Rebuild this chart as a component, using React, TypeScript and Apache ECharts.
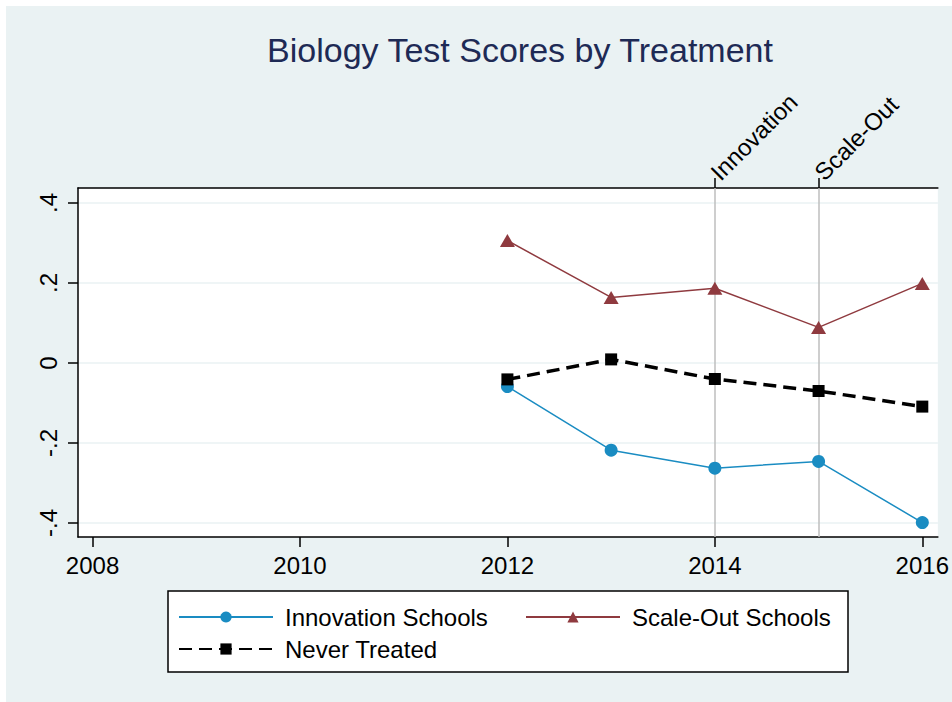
import React, { useEffect, useRef } from "react";
import * as echarts from "echarts";

const years = [2012, 2013, 2014, 2015, 2016];
const innovation = [-0.059, -0.218, -0.263, -0.246, -0.399];
const scaleOut = [0.306, 0.164, 0.187, 0.089, 0.199];
const neverTreated = [-0.041, 0.009, -0.04, -0.07, -0.109];
const xTicks = [2008, 2010, 2012, 2014, 2016];
const yTicks = [-0.4, -0.2, 0, 0.2, 0.4];
const eventYears = [2014, 2015];
const eventLabels = ["Innovation", "Scale-Out"];
const seriesNames = ["Innovation Schools", "Scale-Out Schools", "Never Treated"];
const titleText = "Biology Test Scores by Treatment";

const FONT = "'Liberation Sans', Arial, sans-serif";

function pairs(vals: number[]) {
  return years.map((y, i) => [y, vals[i]]);
}

export default function App() {
  const ref = useRef<HTMLDivElement>(null);
  useEffect(() => {
    if (!ref.current) return;
    const chart = echarts.init(ref.current, null, { renderer: "svg" });
    const fmtY = (v: number) => {
      const r = Math.round(v * 10) / 10;
      if (r === 0) return "0";
      return String(r).replace(/^(-?)0\./, "$1.");
    };
    chart.setOption({
      animation: false,
      backgroundColor: "#ffffff",
      textStyle: { fontFamily: FONT },
      title: {
        text: titleText,
        left: 515,
        textAlign: "center",
        top: 28,
        textStyle: { fontFamily: FONT, fontSize: 34, fontWeight: "normal", color: "#1E2A55" },
      },
      graphic: [
        {
          type: "rect",
          z: -10,
          silent: true,
          shape: { x: 6, y: 6, width: 946, height: 696 },
          style: { fill: "#EAF2F3" },
        },
        {
          type: "rect",
          z: 1,
          silent: true,
          shape: { x: 168, y: 591, width: 680, height: 81 },
          style: { fill: "#ffffff", stroke: "#000000", lineWidth: 1.5 },
        },
      ],
      grid: {
        left: 78,
        right: 12,
        top: 188,
        bottom: 165,
        show: true,
        backgroundColor: "#ffffff",
        borderWidth: 0,
        containLabel: false,
      },
      legend: {
        data: seriesNames,
        left: 178,
        top: 605,
        width: 700,
        itemWidth: 94,
        itemHeight: 14,
        itemGap: 8,
        padding: 0,
        z: 5,
        textStyle: {
          fontFamily: FONT,
          fontSize: 24,
          color: "#000000",
          lineHeight: 24,
          width: 232,
          padding: [0, 0, 0, 7],
        },
      },
      xAxis: [
        {
          type: "value",
          position: "bottom",
          min: 2007.86,
          max: 2016.15,
          axisLine: { show: true, onZero: false, lineStyle: { color: "#000", width: 1.5 } },
          axisTick: { show: true, length: 10, customValues: xTicks, lineStyle: { color: "#000", width: 1.5 } },
          axisLabel: {
            customValues: xTicks,
            fontSize: 24,
            color: "#000",
            margin: 16,
            fontFamily: FONT,
            formatter: (v: number) => String(Math.round(v)),
          },
          splitLine: { show: false },
        },
        {
          type: "value",
          position: "top",
          min: 2007.86,
          max: 2016.15,
          axisLine: { show: true, onZero: false, lineStyle: { color: "#000", width: 1.5 } },
          axisTick: { show: true, length: 10, customValues: eventYears, lineStyle: { color: "#000", width: 1.5 } },
          axisLabel: {
            customValues: eventYears,
            rotate: -45,
            fontSize: 24,
            color: "#000",
            margin: 12,
            fontFamily: FONT,
            formatter: (v: number) => eventLabels[eventYears.indexOf(Math.round(v))] ?? "",
          },
          splitLine: { show: false },
        },
      ],
      yAxis: {
        type: "value",
        min: -0.435,
        max: 0.4375,
        axisLine: { show: true, onZero: false, lineStyle: { color: "#000", width: 1.5 } },
        axisTick: { show: true, length: 10, customValues: yTicks, lineStyle: { color: "#000", width: 1.5 } },
        axisLabel: {
          customValues: yTicks,
          rotate: 90,
          fontSize: 24,
          color: "#000",
          margin: 18,
          fontFamily: FONT,
          formatter: fmtY,
        },
        splitLine: { show: true, lineStyle: { color: "#EAF2F3", width: 1.5 } },
      },
      series: [
        {
          name: seriesNames[0],
          type: "line",
          data: pairs(innovation),
          symbol: "circle",
          symbolSize: 13,
          itemStyle: { color: "#1A8CC2" },
          lineStyle: { color: "#1A8CC2", width: 1.5 },
          z: 3,
          markLine: {
            silent: true,
            symbol: "none",
            label: { show: false },
            lineStyle: { color: "#BEBEBE", width: 1.5, type: "solid" },
            data: eventYears.map((y) => ({ xAxis: y })),
            z: 1,
          },
        },
        {
          name: seriesNames[1],
          type: "line",
          data: pairs(scaleOut),
          symbol: "triangle",
          symbolSize: [15, 13],
          itemStyle: { color: "#8F3A3F" },
          lineStyle: { color: "#8F3A3F", width: 1.5 },
          z: 3,
        },
        {
          name: seriesNames[2],
          type: "line",
          data: pairs(neverTreated),
          symbol: "rect",
          symbolSize: 12,
          itemStyle: { color: "#000000" },
          lineStyle: { color: "#000000", width: 3.5, type: [13, 7] },
          z: 4,
        },
      ],
    });
    return () => chart.dispose();
  }, []);
  return (
    <div
      ref={ref}
      style={{ position: "fixed", left: 0, top: 0, width: 952, height: 702 }}
    />
  );
}
